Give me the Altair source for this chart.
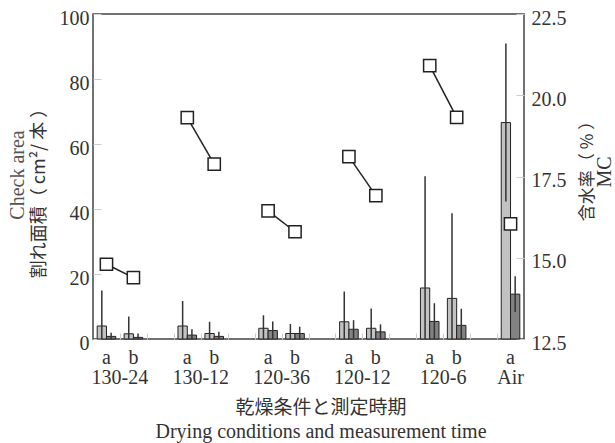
import altair as alt
import pandas as pd

# ---- data ----
conditions = ["130-24", "130-12", "120-36", "120-12", "120-6", "Air"]
cond_of = ["130-24", "130-24", "130-12", "130-12", "120-36", "120-36",
           "120-12", "120-12", "120-6", "120-6", "Air"]
time_of = ["a", "b", "a", "b", "a", "b", "a", "b", "a", "b", "a"]
check_light = [4.0, 1.6, 4.0, 1.7, 3.3, 1.7, 5.3, 3.3, 15.7, 12.5, 66.6]
check_light_err = [10.9, 5.3, 7.7, 3.6, 4.0, 2.9, 9.3, 6.1, 34.4, 26.2, 24.3]
check_dark = [0.8, 0.5, 1.2, 0.8, 2.6, 1.7, 3.0, 2.2, 5.4, 4.2, 13.8]
check_dark_err = [1.1, 1.2, 1.8, 1.4, 2.8, 2.1, 2.8, 2.3, 5.6, 5.1, 5.5]
mc = [14.80, 14.39, 19.31, 17.88, 16.44, 15.80, 18.11, 16.91, 20.91, 19.32, 16.04]

left_ticks = [0, 20, 40, 60, 80, 100]
right_ticks = [12.5, 15.0, 17.5, 20.0, 22.5]

W, H = 431, 325
BW = 0.345  # bar width in x units

serif = "Liberation Serif"
cjk = "Noto Sans CJK JP"

# ---- tables built from the arrays ----
rows = []
mc_rows = []
for i, (c, t) in enumerate(zip(cond_of, time_of)):
    pos = 3 * conditions.index(c) + (0 if t == "a" else 1)
    for s, v, e, sgn in (("light", check_light[i], check_light_err[i], -1),
                         ("dark", check_dark[i], check_dark_err[i], 1)):
        x0 = pos if sgn > 0 else pos - BW
        x1 = pos + BW if sgn > 0 else pos
        rows.append(dict(cond=c, time=t, pos=pos, series=s, value=v,
                         x0=x0, x1=x1, xc=(x0 + x1) / 2,
                         lo=max(0.0, v - e), hi=v + e))
    mc_rows.append(dict(cond=c, time=t, pos=pos, mc=mc[i]))
bars_df = pd.DataFrame(rows)
mc_df = pd.DataFrame(mc_rows)
grp_df = mc_df.groupby("cond", as_index=False)["pos"].mean()

xscale = alt.Scale(domain=[-0.5, 15.5], nice=False, zero=False)
xaxis = alt.Axis(values=[i + 0.5 for i in range(15)], labels=False, domain=False,
                 ticks=True, tickSize=6, tickColor="#cccccc", offset=-6,
                 grid=False, title=None)
yL = alt.Scale(domain=[0, 100], nice=False, zero=True)
yR = alt.Scale(domain=[12.5, 22.5], nice=False, zero=False)

left_axis = alt.Axis(values=left_ticks, orient="left", domain=False, ticks=True,
                     tickSize=8, tickColor="#cccccc", offset=-8, labelPadding=4,
                     labelOffset=4, labelFont=serif, labelFontSize=20,
                     labelColor="#333333", grid=False, title=None)
right_axis = alt.Axis(values=right_ticks, orient="right", format=".1f", domain=False,
                      ticks=True, tickSize=8, tickColor="#cccccc", offset=-8,
                      labelPadding=7, labelOffset=4, labelFont=serif, labelFontSize=20,
                      labelColor="#333333", grid=False, title=None)

base = alt.Chart(bars_df)
bars = base.mark_bar(stroke="#222222", strokeWidth=1).encode(
    x=alt.X("x0:Q", scale=xscale, axis=xaxis),
    x2="x1:Q",
    y=alt.Y("value:Q", scale=yL, axis=left_axis),
    y2=alt.datum(0),
    color=alt.Color("series:N", scale=alt.Scale(domain=["light", "dark"],
                                                range=["#c2c2c2", "#828282"]),
                    legend=None),
)
errs = base.mark_rule(color="#333333", strokeWidth=1.5).encode(
    x=alt.X("xc:Q", scale=xscale, axis=xaxis),
    y=alt.Y("lo:Q", scale=yL, axis=left_axis),
    y2="hi:Q",
)
left_layer = alt.layer(bars, errs)

mcb = alt.Chart(mc_df)
line = mcb.mark_line(color="#222222", strokeWidth=1.5).encode(
    x=alt.X("pos:Q", scale=xscale, axis=xaxis),
    y=alt.Y("mc:Q", scale=yR, axis=right_axis),
    detail="cond:N",
)
pts = mcb.mark_point(shape="square", size=150, filled=True, fill="white",
                     stroke="#222222", strokeWidth=1.5, opacity=1).encode(
    x=alt.X("pos:Q", scale=xscale, axis=xaxis),
    y=alt.Y("mc:Q", scale=yR, axis=right_axis),
)
right_layer = alt.layer(line, pts)

ab = mcb.mark_text(font=serif, fontSize=20, color="#333333", baseline="middle").encode(
    x=alt.X("pos:Q", scale=xscale, axis=xaxis),
    y=alt.value(H + 19),
    text="time:N",
)
grp = alt.Chart(grp_df).mark_text(font=serif, fontSize=20, color="#333333",
                                  baseline="middle").encode(
    x=alt.X("pos:Q", scale=xscale, axis=xaxis),
    y=alt.value(H + 39),
    text="cond:N",
)

titles_df = pd.DataFrame({"t": [
    "Check area", "割れ面積（ cm²/ 本 ）", "含水率（ % ）", "MC",
    "乾燥条件と測定時期", "Drying conditions and measurement time"]})


def title_mark(text, x, y, font, size, color, angle=0):
    return alt.Chart(titles_df).transform_filter(
        alt.datum.t == text
    ).mark_text(font=font, fontSize=size, color=color, angle=angle,
                baseline="middle", align="center").encode(
        x=alt.value(x), y=alt.value(y), text="t:N")


titles = alt.layer(
    title_mark("Check area", -75, 161, serif, 20, "#555555", 270),
    title_mark("割れ面積（ cm²/ 本 ）", -53, 175, cjk, 18, "#333333", 270),
    title_mark("含水率（ % ）", 495, 153, cjk, 17, "#333333", 270),
    title_mark("MC", 512, 158, serif, 20, "#333333", 270),
    title_mark("乾燥条件と測定時期", 228, 394, cjk, 19, "#333333"),
    title_mark("Drying conditions and measurement time", 228, 418, serif, 20, "#333333"),
)

chart = alt.layer(left_layer, right_layer, ab, grp, titles).resolve_scale(
    y="independent"
).properties(
    width=W, height=H,
    autosize=alt.AutoSizeParams(type="none"),
    padding={"left": 93, "top": 14, "right": 91, "bottom": 104},
).configure_view(stroke="#444444", strokeWidth=1.5)

chart.save("out.html", embed_options={"renderer": "svg", "actions": False})
